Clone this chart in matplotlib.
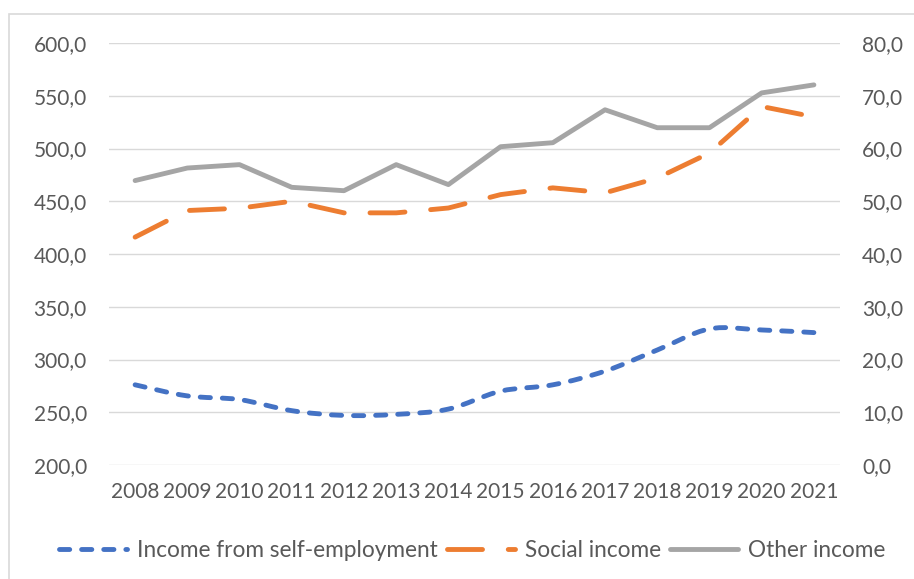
import numpy as np
import matplotlib
matplotlib.use("Agg")
import matplotlib.pyplot as plt
from matplotlib.path import Path
from matplotlib.patches import PathPatch, Rectangle
from matplotlib.lines import Line2D
from matplotlib.ticker import FuncFormatter

years = ["2008", "2009", "2010", "2011", "2012", "2013", "2014",
         "2015", "2016", "2017", "2018", "2019", "2020", "2021"]
# left axis
other_income = [469.6, 481.5, 484.7, 463.2, 460.0, 484.7, 465.8,
                501.7, 505.5, 536.7, 519.7, 519.7, 552.7, 560.3]
social_income = [416.0, 441.2, 443.4, 450.0, 439.0, 439.0, 443.6,
                 456.3, 462.7, 458.0, 472.0, 495.7, 539.8, 530.0]
# right axis
self_employment = [15.2, 13.1, 12.4, 10.3, 9.4, 9.6, 10.6,
                   14.0, 15.2, 17.8, 21.8, 25.8, 25.6, 25.1]

blue = "#4472C4"
orange = "#ED7D31"
grey = "#A5A5A5"
txt = "#595959"
lw = 3.5
blue_dash = (2.1, 2.45)
orange_dash = (7.2, 5.3)

plt.rcParams['font.family'] = ['Lato', 'DejaVu Sans']
plt.rcParams['font.size'] = 15

fig = plt.figure(figsize=(9.14, 5.79), dpi=100)
ax = fig.add_axes([109 / 914, 114 / 579, 731 / 914, 422 / 579])
ax2 = ax.twinx()

x = np.arange(len(years))

ax.plot(x, other_income, color=grey, lw=lw, solid_capstyle='round',
        solid_joinstyle='round', zorder=3)
ax.plot(x, social_income, color=orange, lw=lw, dashes=orange_dash,
        dash_capstyle='round', dash_joinstyle='round', zorder=3)


# smoothed line like excel (catmull-rom bezier through the points)
def smooth_path(xs, ys):
    pts = np.column_stack([xs, ys]).astype(float)
    verts = [pts[0]]
    codes = [Path.MOVETO]
    n = len(pts)
    for i in range(n - 1):
        p0 = pts[max(i - 1, 0)]
        p1 = pts[i]
        p2 = pts[i + 1]
        p3 = pts[min(i + 2, n - 1)]
        c1 = p1 + (p2 - p0) / 6
        c2 = p2 - (p3 - p1) / 6
        verts += [c1, c2, p2]
        codes += [Path.CURVE4] * 3
    return Path(verts, codes)


patch = PathPatch(smooth_path(x, self_employment), fill=False, edgecolor=blue,
                  lw=lw, linestyle=(0, blue_dash), capstyle='round', zorder=3)
ax2.add_patch(patch)

ax.set_xlim(-0.5, len(years) - 0.5)
ax.set_ylim(200, 600)
ax.set_yticks(np.arange(200, 601, 50))
ax2.set_ylim(0, 80)
ax2.set_yticks(np.arange(0, 81, 10))

fmt = FuncFormatter(lambda v, p: f"{v:.1f}".replace(".", ","))
ax.yaxis.set_major_formatter(fmt)
ax2.yaxis.set_major_formatter(fmt)
ax.set_xticks(x)
ax.set_xticklabels(years)

ax.grid(axis='y', color='#D9D9D9', lw=1.0, zorder=0)
ax.set_axisbelow(True)
for a in (ax, ax2):
    for s in a.spines.values():
        s.set_visible(False)
ax.tick_params(axis='y', length=0, pad=16, colors=txt, labelsize=15)
ax2.tick_params(axis='y', length=0, pad=16, colors=txt, labelsize=15)
ax.tick_params(axis='x', length=0, pad=12, colors=txt, labelsize=15)

handles = [
    Line2D([], [], color=blue, lw=lw, dashes=blue_dash, dash_capstyle='round'),
    Line2D([], [], color=orange, lw=lw, dashes=orange_dash, dash_capstyle='round'),
    Line2D([], [], color=grey, lw=lw, solid_capstyle='round'),
]
labels = ["Income from self-employment", "Social income", "Other income"]
fig.legend(handles, labels, loc='center', bbox_to_anchor=(0.517, 0.049), ncol=3,
           frameon=False, handlelength=3.0, handletextpad=0.45, columnspacing=0.4,
           labelcolor=txt, fontsize=16.3)

# chart frame
fig.patches.append(Rectangle((9 / 914, -0.5), 2, (579 - 14) / 579 + 0.5,
                             transform=fig.transFigure, fill=False,
                             edgecolor='#D9D9D9', lw=1.2))

fig.savefig("out.png", dpi=100)
